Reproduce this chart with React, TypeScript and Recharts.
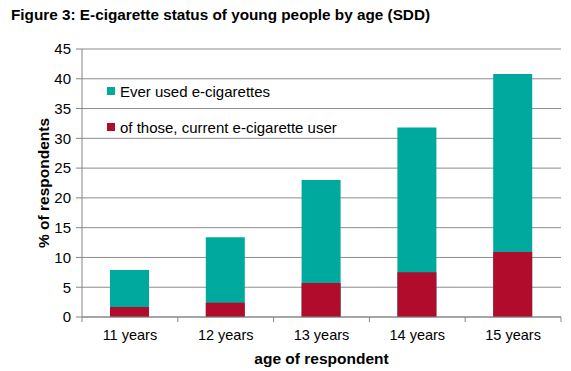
import { BarChart, Bar, XAxis, YAxis, CartesianGrid } from "recharts";

const ages = ["11 years", "12 years", "13 years", "14 years", "15 years"];
const everUsed = [7.9, 13.4, 23, 31.8, 40.8];
const currentUser = [1.7, 2.4, 5.7, 7.5, 10.9];
const yTicks = [0, 5, 10, 15, 20, 25, 30, 35, 40, 45];
const seriesNames = ["Ever used e-cigarettes", "of those, current e-cigarette user"];

const TEAL = "#00A99D";
const RED = "#B10C2B";
const FONT = "Arial, 'Liberation Sans', sans-serif";

const data = ages.map((age, i) => ({
  age,
  ever: everUsed[i],
  current: currentUser[i],
}));

// legend sits inside the plot, drawn as a plain overlay so it takes no room
function LegendBox() {
  const colors = [TEAL, RED];
  return (
    <div
      style={{
        position: "absolute",
        left: 107,
        top: 82,
        fontFamily: FONT,
        fontSize: 15,
        color: "#000",
        whiteSpace: "nowrap",
      }}
    >
      {seriesNames.map((label, i) => (
        <div key={label} style={{ display: "flex", alignItems: "center", height: 18, marginBottom: 18 }}>
          <span style={{ width: 8, height: 8, background: colors[i], marginRight: 5, display: "inline-block" }} />
          {label}
        </div>
      ))}
    </div>
  );
}

function AgeTick(props: any) {
  const { x, y, payload, index } = props;
  const half = 479 / ages.length / 2;
  return (
    <g>
      <line x1={x - half} x2={x - half} y1={y - 8} y2={y - 3} stroke="#868686" />
      {index === ages.length - 1 && (
        <line x1={x + half} x2={x + half} y1={y - 8} y2={y - 3} stroke="#868686" />
      )}
      <text x={x} y={y + 15} textAnchor="middle" fontSize={14.5} fontFamily={FONT} fill="#000">
        {payload.value}
      </text>
    </g>
  );
}

export default function App() {
  return (
    <div style={{ position: "absolute", left: 0, top: 0, width: 571, height: 371, background: "#fff" }}>
      <div
        style={{
          position: "absolute",
          left: 11,
          top: 6,
          fontFamily: FONT,
          fontWeight: "bold",
          fontSize: 15.3,
          color: "#000",
          whiteSpace: "nowrap",
        }}
      >
        Figure 3: E-cigarette status of young people by age (SDD)
      </div>
      <BarChart
        width={571}
        height={371}
        data={data}
        margin={{ top: 49, right: 10, bottom: 0, left: 0 }}
        barSize={39}
        barGap={-39}
      >
        <CartesianGrid vertical={false} stroke="#8c8c8c" />
        <XAxis
          dataKey="age"
          height={54}
          axisLine={{ stroke: "#868686" }}
          tickLine={false}
          tick={<AgeTick />}
          interval={0}
          label={{
            value: "age of respondent",
            position: "insideBottom",
            offset: 7,
            fontSize: 15.5,
            fontWeight: "bold",
            fontFamily: FONT,
            fill: "#000",
          }}
        />
        <YAxis
          width={82}
          domain={[0, 45]}
          ticks={yTicks}
          interval={0}
          axisLine={{ stroke: "#868686" }}
          tickLine={{ stroke: "#868686" }}
          tickSize={6}
          tickMargin={5}
          tick={{ fontSize: 15, fontFamily: FONT, fill: "#000" }}
          label={{
            value: "% of respondents",
            angle: -90,
            position: "insideLeft",
            offset: 43,
            style: { textAnchor: "middle" },
            fontSize: 15.5,
            fontWeight: "bold",
            fontFamily: FONT,
            fill: "#000",
          }}
        />
        <Bar dataKey="ever" name={seriesNames[0]} fill={TEAL} isAnimationActive={false} />
        <Bar dataKey="current" name={seriesNames[1]} fill={RED} isAnimationActive={false} />
      </BarChart>
      <LegendBox />
    </div>
  );
}
